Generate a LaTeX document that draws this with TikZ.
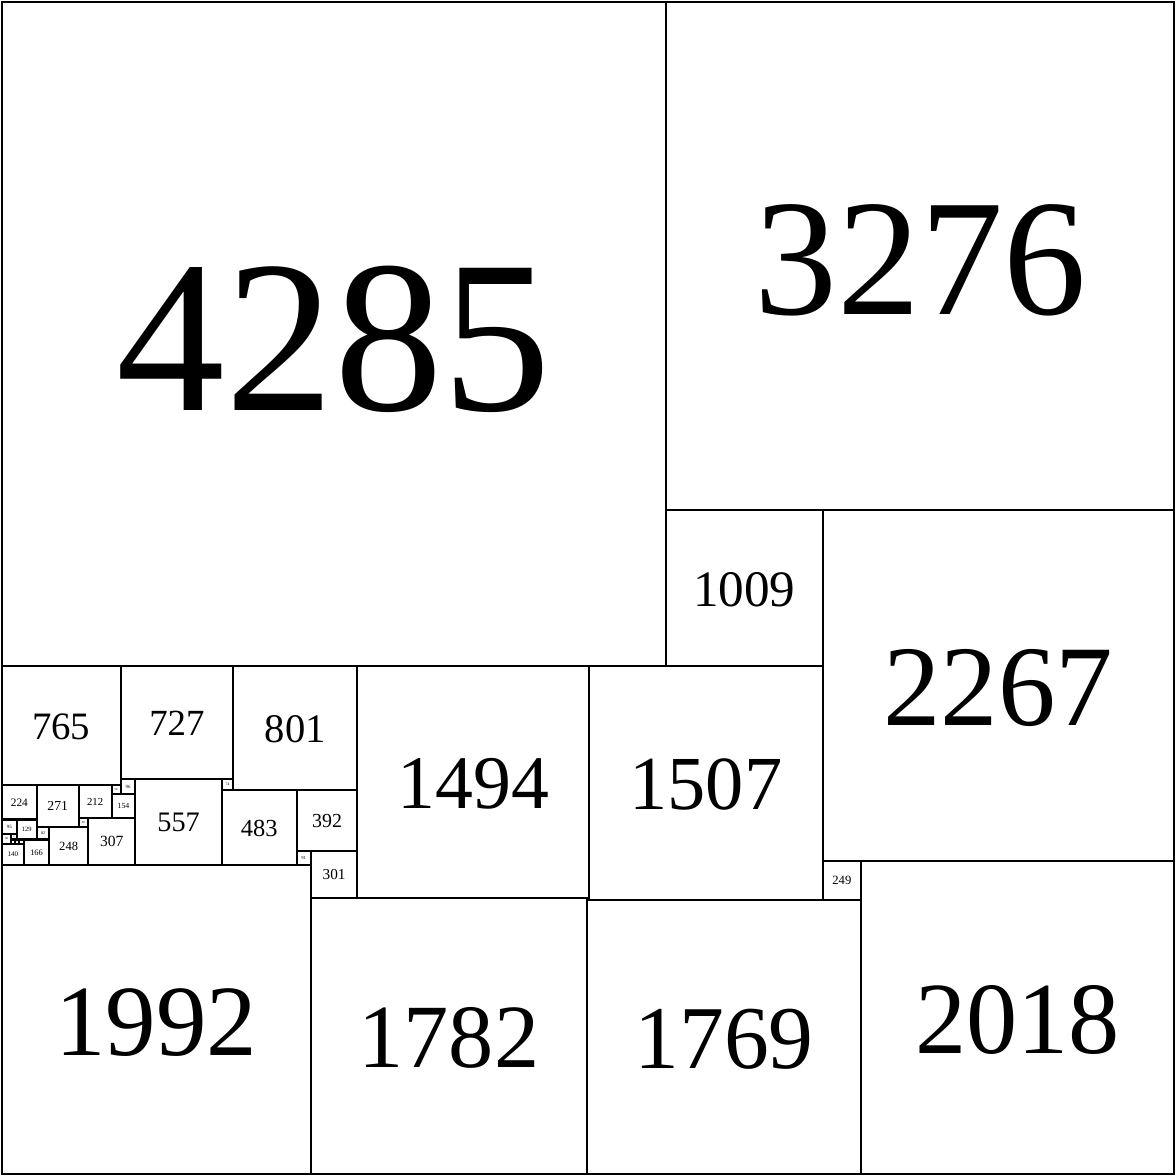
\documentclass[tikz,border=0pt]{standalone}
\usepackage{fontspec}
\setmainfont{Liberation Serif}
\usetikzlibrary{positioning}

\begin{document}
\begin{tikzpicture}[x=.002cm,y=-.002cm,
        tile/.style={draw=black,line width=.75pt},
        num/.style={inner sep=0pt,anchor=center}]
        \useasboundingbox (-13,-13) rectangle (7574,7574);
        % Every square: size / left / top (units, y downwards).
        \foreach \s/\x/\y in {4285/0/0,3276/4285/0,1009/4285/3276,
            2267/5294/3276,765/0/4285,727/765/4285,801/1492/4285,
            1494/2293/4285,1507/3787/4285,249/5294/5543,2018/5543/5543,
            1769/3774/5792,1782/1992/5779,1992/0/5569,301/1992/5478,
            392/1901/5086,91/1901/5478,483/1418/5086,74/1418/5012,
            557/861/5012,96/765/5012,58/707/5050,154/707/5108,
            212/495/5050,271/224/5050,224/0/5050,307/554/5262,
            59/495/5262,248/306/5321,82/224/5321,166/140/5403,
            140/0/5429,129/95/5274,95/0/5274,60/0/5369,34/60/5369,
            26/60/5403,25/86/5404,28/112/5401}{
          \pgfmathsetmacro{\fs}{.0186*\s}
          \draw[tile] (\x,\y) rectangle ++(\s,\s);
          \node[num,font=\fontsize{\fs pt}{\fs pt}\selectfont]
            (sq\s) at (\x+\s/2,\y+.508*\s) {\s};
        }
        % Outer frame.
        \draw[tile] (0,0) rectangle (7561,7561);
      \end{tikzpicture}
\end{document}
